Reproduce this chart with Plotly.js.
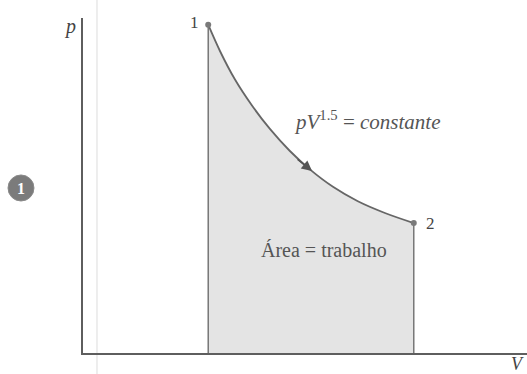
<!DOCTYPE html>
<html>
<head>
<meta charset="utf-8">
<script src="https://cdn.plot.ly/plotly-3.0.1.min.js"></script>
<style>
  html, body { margin: 0; padding: 0; background: #fff; }
  #chart { width: 527px; height: 374px; }
</style>
</head>
<body>
<div id="chart"></div>
<script>
// Polytropic expansion from state 1 to state 2 (arbitrary units)
const volume   = [2.82, 3.09, 3.42, 3.81, 4.21, 4.66, 5.11, 5.63, 6.19, 6.8, 7.45];
const pressure = [9.8, 9.0, 8.17, 7.38, 6.69, 6.03, 5.48, 4.96, 4.53, 4.18, 3.88];
const stateLabels = ['1', '2'];
const processLabel = '<i>pV</i><sup>1.5</sup> = <i>constante</i>';
const areaLabel = 'Área = trabalho';

const last = volume.length - 1;
const ink = '#5e5e5e';
const serif = '"Liberation Serif", serif';

const traces = [
  // shaded area under the curve (work)
  {
    x: volume, y: pressure, type: 'scatter', mode: 'lines',
    line: {color: '#666666', width: 1.8, shape: 'spline', smoothing: 1},
    fill: 'tozeroy', fillcolor: 'rgb(228,228,228)',
    hoverinfo: 'skip'
  },
  // vertical boundaries at states 1 and 2
  {
    x: [volume[0], volume[0]], y: [0, pressure[0]], type: 'scatter', mode: 'lines',
    line: {color: '#6e6e6e', width: 1.4}, hoverinfo: 'skip'
  },
  {
    x: [volume[last], volume[last]], y: [0, pressure[last]], type: 'scatter', mode: 'lines',
    line: {color: '#6e6e6e', width: 1.4}, hoverinfo: 'skip'
  },
  // end states
  {
    x: [volume[0], volume[last]], y: [pressure[0], pressure[last]],
    type: 'scatter', mode: 'markers',
    marker: {color: '#7a7a7a', size: 6}, hoverinfo: 'skip'
  }
];

const annotations = [
  {xref: 'paper', yref: 'paper', x: -0.011, y: 1.015, xanchor: 'right', yanchor: 'top',
   text: '<i>p</i>', showarrow: false, font: {family: serif, size: 20, color: '#444'}},
  {xref: 'paper', yref: 'paper', x: 0.998, y: -0.034, xanchor: 'right', yanchor: 'middle',
   text: '<i>V</i>', showarrow: false, font: {family: serif, size: 18, color: '#444'}},
  {x: volume[0], y: pressure[0], xanchor: 'right', yanchor: 'middle', xshift: -7, yshift: 2,
   text: stateLabels[0], showarrow: false, font: {family: serif, size: 17, color: '#444'}},
  {x: volume[last], y: pressure[last], xanchor: 'left', yanchor: 'middle', xshift: 10, yshift: 0,
   text: stateLabels[1], showarrow: false, font: {family: serif, size: 17, color: '#444'}},
  {x: 6.4, y: 6.95, xanchor: 'center', yanchor: 'middle',
   text: processLabel, showarrow: false, font: {family: serif, size: 21, color: '#555'}},
  {x: 5.42, y: 3.07, xanchor: 'center', yanchor: 'middle',
   text: areaLabel, showarrow: false, font: {family: serif, size: 20, color: '#555'}},
  // direction of the process along the curve
  {x: 5.16, y: 5.43, ax: 4.8, ay: 5.82, xref: 'x', yref: 'y', axref: 'x', ayref: 'y',
   text: '', showarrow: true, arrowhead: 2, arrowsize: 1.3, arrowwidth: 1.6, arrowcolor: '#555'},
  // step marker
  {xref: 'paper', yref: 'paper', x: -0.1396, y: 0.4925, xanchor: 'center', yanchor: 'middle',
   text: '<b>1</b>', showarrow: false, font: {family: serif, size: 16, color: '#fff'}}
];

const shapes = [
  // faint fold line running down the page
  {type: 'line', xref: 'paper', yref: 'paper', x0: 0.0315, x1: 0.0315, y0: -0.07, y1: 1.06,
   line: {color: '#e2e2e2', width: 1.2}, layer: 'below'},
  {type: 'circle', xref: 'paper', yref: 'paper', x0: -0.1689, x1: -0.1104, y0: 0.4537, y1: 0.5314,
   fillcolor: '#7b7b7b', line: {color: '#8a8a8a', width: 1}}
];

const layout = {
  width: 527, height: 374,
  margin: {l: 83, r: 0, t: 18, b: 21},
  paper_bgcolor: '#fff', plot_bgcolor: '#fff',
  showlegend: false,
  xaxis: {range: [0, 10], showline: true, linecolor: ink, linewidth: 1.6,
          showgrid: false, zeroline: false, showticklabels: false, ticks: ''},
  yaxis: {range: [0, 10], showline: true, linecolor: ink, linewidth: 1.6,
          showgrid: false, zeroline: false, showticklabels: false, ticks: ''},
  annotations: annotations,
  shapes: shapes
};

Plotly.newPlot('chart', traces, layout, {displayModeBar: false, staticPlot: true});
</script>
</body>
</html>
